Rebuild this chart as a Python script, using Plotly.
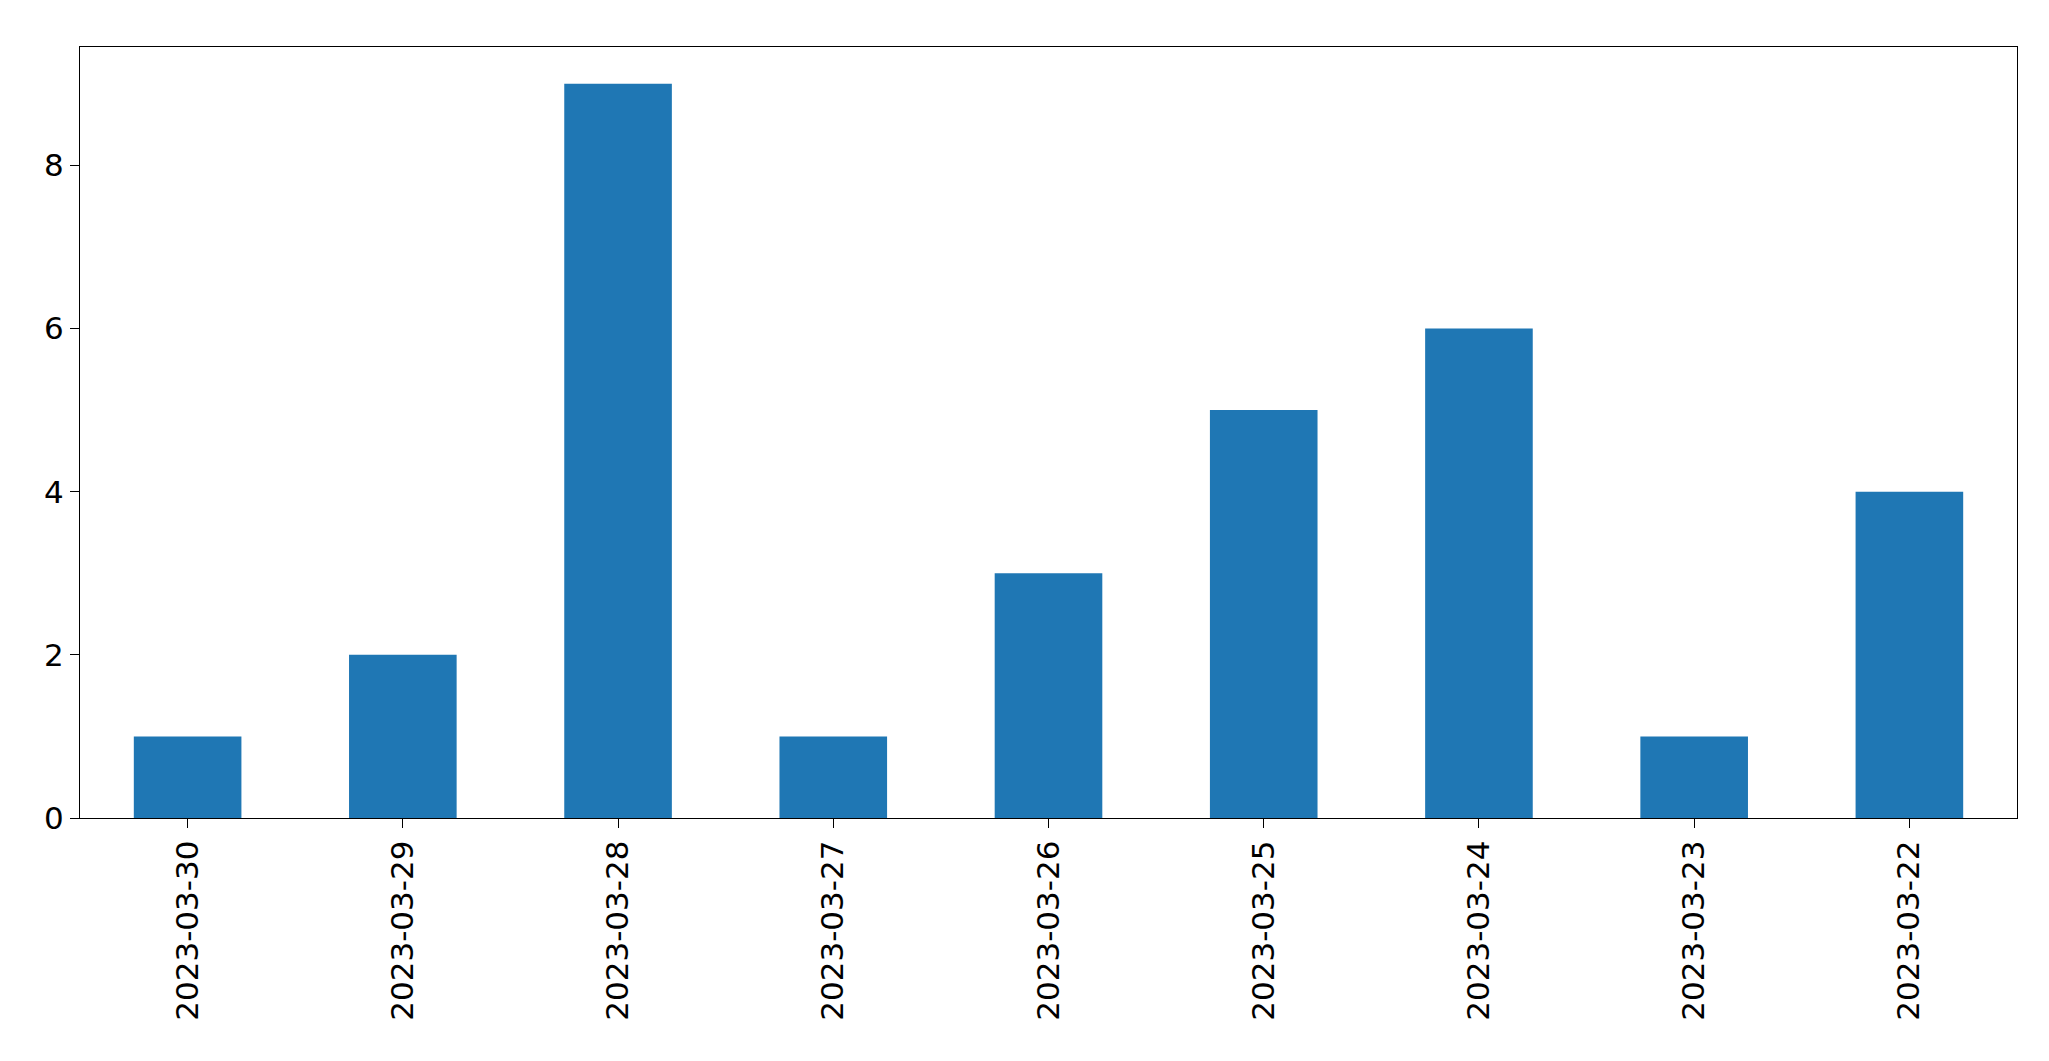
import plotly.graph_objects as go

dates = ["2023-03-30","2023-03-29","2023-03-28","2023-03-27","2023-03-26","2023-03-25","2023-03-24","2023-03-23","2023-03-22"]
counts = [1,2,9,1,3,5,6,1,4]

fig = go.Figure(go.Bar(x=dates, y=counts, width=0.5, marker=dict(color="#1f77b4", line=dict(width=0))))
fig.update_layout(
    width=2049, height=1061, paper_bgcolor="white", plot_bgcolor="white",
    margin=dict(l=72, r=40, t=39, b=251),
    font=dict(family="DejaVu Sans", size=31, color="black"),
    showlegend=False,
)
fig.update_xaxes(type="category", range=[-0.5, 8.5], tickangle=-90, showline=True, linecolor="black",
                 linewidth=1.3, mirror=True, ticks="outside", ticklen=9, tickcolor="black", showgrid=False)
fig.update_yaxes(range=[0, 9.45], tickvals=[0,2,4,6,8], showline=True, linecolor="black", linewidth=1.3,
                 mirror=True, ticks="outside", ticklen=9, tickcolor="black", showgrid=False, zeroline=False)
fig.write_html("out.html")
